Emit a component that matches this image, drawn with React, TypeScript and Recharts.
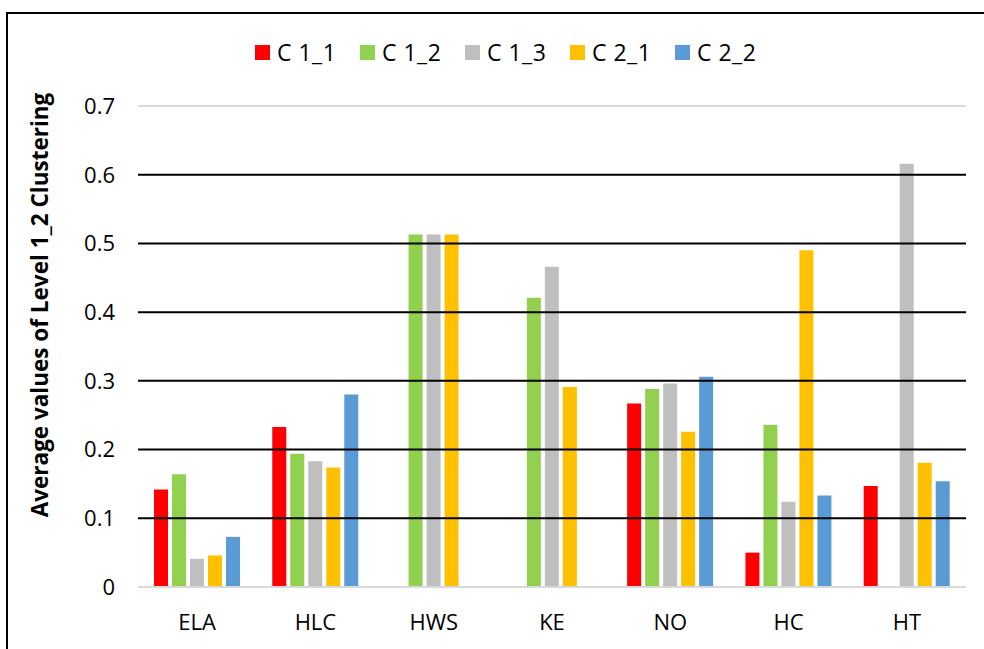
import React from 'react';
import { BarChart, Bar, XAxis, YAxis, ReferenceLine } from 'recharts';

const CATEGORIES = ['ELA', 'HLC', 'HWS', 'KE', 'NO', 'HC', 'HT'];

const C1_1 = [0.142, 0.233, 0, 0, 0.267, 0.05, 0.147];
const C1_2 = [0.164, 0.194, 0.513, 0.421, 0.288, 0.236, 0];
const C1_3 = [0.041, 0.183, 0.513, 0.466, 0.296, 0.124, 0.616];
const C2_1 = [0.046, 0.174, 0.513, 0.291, 0.226, 0.49, 0.181];
const C2_2 = [0.073, 0.28, 0, 0, 0.306, 0.133, 0.154];

const SERIES = [
  { key: 'c11', name: 'C 1_1', values: C1_1, color: '#FF0000' },
  { key: 'c12', name: 'C 1_2', values: C1_2, color: '#92D050' },
  { key: 'c13', name: 'C 1_3', values: C1_3, color: '#BFBFBF' },
  { key: 'c21', name: 'C 2_1', values: C2_1, color: '#FFC000' },
  { key: 'c22', name: 'C 2_2', values: C2_2, color: '#5B9BD5' },
];

const Y_TICKS = [0, 0.1, 0.2, 0.3, 0.4, 0.5, 0.6, 0.7];
const BLACK_LINES = [0.1, 0.2, 0.3, 0.4, 0.5, 0.6];
const Y_TITLE = 'Average values of Level 1_2 Clustering';

const data = CATEGORIES.map((cat, i) => {
  const row: Record<string, string | number> = { cat };
  SERIES.forEach((s) => {
    row[s.key] = s.values[i];
  });
  return row;
});

const FONT = '"Open Sans", sans-serif';

export default function App() {
  return (
    <div
      style={{
        position: 'absolute',
        left: 0,
        top: 0,
        width: 984,
        height: 649,
        overflow: 'hidden',
        background: '#fff',
        fontFamily: FONT,
      }}
    >
      <div
        style={{
          position: 'absolute',
          left: 6,
          top: 12,
          width: 1000,
          height: 700,
          border: '2px solid #000',
        }}
      />
      <div style={{ position: 'absolute', left: 255, top: 37, display: 'flex' }}>
        {SERIES.map((s) => (
          <div key={s.key} style={{ width: 105, display: 'flex', alignItems: 'center', height: 30 }}>
            <span style={{ width: 15, height: 15, background: s.color, display: 'inline-block', marginRight: 7 }} />
            <span style={{ fontSize: 23, color: '#000', whiteSpace: 'pre', letterSpacing: 0.5 }}>{s.name}</span>
          </div>
        ))}
      </div>
      <div
        style={{
          position: 'absolute',
          left: 39,
          top: 305,
          transform: 'translate(-50%, -50%) rotate(-90deg)',
          whiteSpace: 'nowrap',
          fontSize: 22.5,
          fontWeight: 700,
          color: '#000',
        }}
      >
        {Y_TITLE}
      </div>
      <div style={{ position: 'absolute', left: 0, top: 0 }}>
        <BarChart
          width={984}
          height={649}
          data={data}
          margin={{ top: 106, right: 18, bottom: 0, left: 18 }}
          barSize={14}
          barGap={4}
        >
          <XAxis
            dataKey="cat"
            height={62}
            axisLine={{ stroke: '#D9D9D9', strokeWidth: 2 }}
            tickLine={false}
            tickSize={0}
            tickMargin={27}
            tick={{ fontSize: 22, fill: '#000', fontFamily: FONT }}
            interval={0}
          />
          <YAxis
            width={120}
            domain={[0, 0.7]}
            ticks={Y_TICKS}
            axisLine={false}
            tickLine={false}
            tickSize={0}
            tickMargin={23}
            tick={{ fontSize: 22, fill: '#000', fontFamily: FONT }}
            interval={0}
          />
          {BLACK_LINES.map((v) => (
            <ReferenceLine key={v} y={v} stroke="#000" strokeWidth={2} />
          ))}
          <ReferenceLine y={0.7} stroke="#D9D9D9" strokeWidth={2} />
          {SERIES.map((s) => (
            <Bar key={s.key} dataKey={s.key} name={s.name} fill={s.color} isAnimationActive={false} />
          ))}
        </BarChart>
      </div>
    </div>
  );
}
